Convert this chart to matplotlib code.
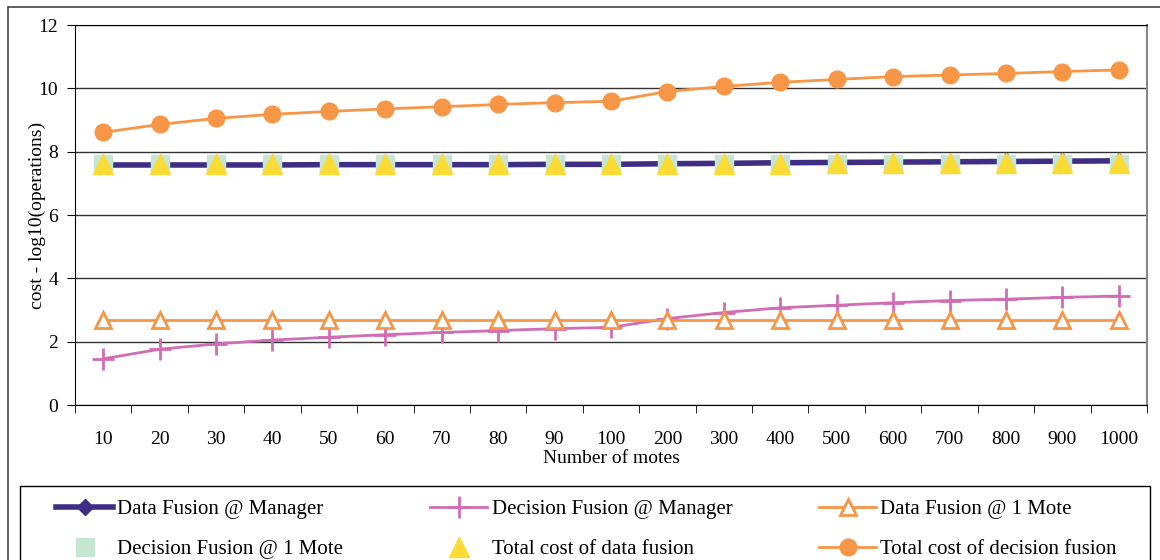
import matplotlib
matplotlib.use("Agg")
import matplotlib.pyplot as plt
from matplotlib.patches import Rectangle

plt.rcParams['font.family'] = ['Liberation Serif', 'DejaVu Serif']

motes = ["10", "20", "30", "40", "50", "60", "70", "80", "90", "100",
         "200", "300", "400", "500", "600", "700", "800", "900", "1000"]

data_fusion_manager = [7.58, 7.58, 7.58, 7.58, 7.59, 7.59, 7.59, 7.59, 7.6, 7.6,
                       7.62, 7.63, 7.65, 7.66, 7.67, 7.68, 7.69, 7.7, 7.71]
decision_fusion_manager = [1.46, 1.76, 1.93, 2.05, 2.14, 2.22, 2.29, 2.35, 2.41, 2.45,
                           2.73, 2.92, 3.07, 3.15, 3.23, 3.3, 3.34, 3.4, 3.44]
data_fusion_mote = [2.7] * 19
decision_fusion_mote = [7.6] * 19
total_data_fusion = [7.6, 7.6, 7.6, 7.6, 7.6, 7.6, 7.6, 7.6, 7.6, 7.6,
                     7.61, 7.62, 7.62, 7.63, 7.63, 7.64, 7.64, 7.65, 7.65]
total_decision_fusion = [8.61, 8.86, 9.05, 9.18, 9.27, 9.35, 9.42, 9.49, 9.55, 9.59,
                         9.9, 10.06, 10.19, 10.28, 10.37, 10.42, 10.47, 10.53, 10.58]

navy = "#3F2E84"
pink = "#D16DB5"
orange = "#F79646"
green = "#C6E5D3"
yellow = "#FDDB35"

fig = plt.figure(figsize=(11.6, 5.6), dpi=100)
ax = fig.add_axes([75/1160, 155/560, 1072/1160, 380/560])
x = list(range(len(motes)))

#lines
h1, = ax.plot(x, data_fusion_manager, color=navy, lw=4, marker="D", ms=8,
              label="Data Fusion @ Manager", zorder=3)
h4, = ax.plot(x, decision_fusion_mote, ls="none", marker="s", ms=13, color=green,
              label="Decision Fusion @ 1 Mote", zorder=4)
h5, = ax.plot(x, total_data_fusion, ls="none", marker="^", ms=14, color=yellow,
              label="Total cost of data fusion", zorder=5)
h2, = ax.plot(x, decision_fusion_manager, color=pink, lw=2, marker="+", ms=16, mew=2,
              label="Decision Fusion @ Manager", zorder=3)
h3, = ax.plot(x, data_fusion_mote, color=orange, lw=2, marker="^", ms=11, mew=2,
              mfc="white", label="Data Fusion @ 1 Mote", zorder=3)
h6, = ax.plot(x, total_decision_fusion, color=orange, lw=2, marker="o", ms=12,
              label="Total cost of decision fusion", zorder=3)

ax.set_xlim(-0.5, len(motes) - 0.5)
ax.set_ylim(0, 12)
ax.set_yticks(range(0, 13, 2))
ax.set_xticks(x)
ax.set_xticklabels(motes)
ax.set_xticks([i - 0.5 for i in range(len(motes) + 1)], minor=True)
ax.tick_params(axis="x", which="major", length=0, pad=19, labelsize=14)
ax.tick_params(axis="x", which="minor", length=6, direction="out")
ax.tick_params(axis="y", length=6, direction="out", labelsize=14, pad=6)
ax.yaxis.grid(True, color="#333333", lw=1)
ax.set_axisbelow(True)
ax.spines["top"].set_color("black")
ax.spines["right"].set_color("#888888")
ax.spines["right"].set_linewidth(1.5)
ax.set_xlabel("Number of motes", fontsize=14, labelpad=1)
ax.set_ylabel("cost - log10(operations)", fontsize=14, labelpad=-5)

# legend, row-wise order
handles = [h1, h4, h2, h5, h3, h6]
leg = fig.legend(handles=handles, loc="upper left", ncol=3, mode="expand",
                 bbox_to_anchor=(56/1160, 1 - 505/560, 1061/1160, 0.01),
                 fontsize=15, frameon=False, handlelength=2.75,
                 handletextpad=0.2, borderaxespad=0, labelspacing=1.0,
                 borderpad=0)

fig.patches.append(Rectangle((20/1160, -0.05), 1130/1160, 1 - 486/560 + 0.05,
                             transform=fig.transFigure, fill=False,
                             edgecolor="black", lw=1))
fig.patches.append(Rectangle((8/1160, -0.05), 1.1, 1 - 7/560 + 0.05,
                             transform=fig.transFigure, fill=False,
                             edgecolor="#444444", lw=1.2))

fig.savefig("out.png", dpi=100)
